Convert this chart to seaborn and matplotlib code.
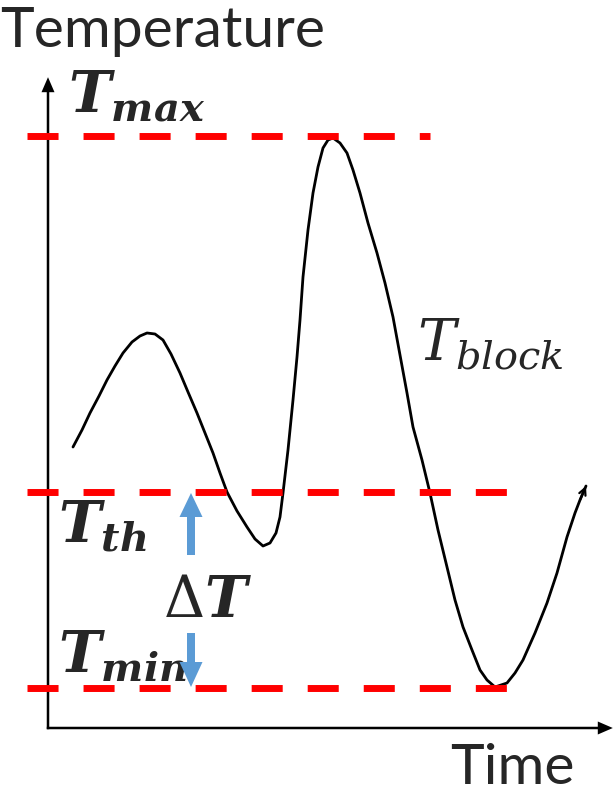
import numpy as np
import seaborn as sns
import matplotlib.pyplot as plt

sns.set_style('white')
plt.rcParams['mathtext.fontset'] = 'custom'
plt.rcParams['mathtext.rm'] = 'DejaVu Serif'
plt.rcParams['mathtext.it'] = 'DejaVu Serif:italic'
plt.rcParams['mathtext.bf'] = 'DejaVu Serif:italic:bold'

# block temperature over time
time = [25, 34, 42, 51, 59, 67, 75, 84, 92, 99, 107, 115, 123, 132, 140, 149,
        157, 165, 172, 179, 189, 199, 207, 215, 222, 228, 232, 235, 240, 245,
        249, 252, 255, 260, 265, 270, 275, 280, 285, 292, 299, 305, 312, 320,
        329, 337, 345, 352, 359, 365, 374, 382, 390, 399, 407, 415, 424, 432,
        439, 447, 459, 467, 475, 487, 499, 509, 519, 527, 532, 538]
temp = [281, 298, 315, 332, 348, 362, 375, 386, 392, 395, 394, 388, 374, 355,
        336, 315, 295, 275, 255, 236, 217, 201, 189, 182, 185, 195, 211, 235,
        278, 328, 371, 408, 451, 498, 535, 561, 580, 588, 590, 585, 575, 558,
        535, 505, 475, 445, 411, 373, 335, 301, 268, 235, 198, 161, 128, 101,
        78, 58, 48, 41, 45, 55, 68, 95, 125, 155, 191, 215, 228, 242]

# reference levels
level_names = ['max', 'th', 'min']
level_values = [592, 236, 40]
level_ends = [382, 483, 483]
line_start = -21

fig = plt.figure(figsize=(6.16, 7.92), dpi=100)
ax = fig.add_axes([0, 0, 1, 1])
ax.set_xlim(-48, 568)
ax.set_ylim(-64, 728)
ax.axis('off')

# axes with arrow heads
ax.arrow(0, -1.2, 0, 652, width=2.5, head_width=13, head_length=15,
         length_includes_head=True, color='black', lw=0)
ax.arrow(-1.2, 0, 566, 0, width=2.5, head_width=13, head_length=15,
         length_includes_head=True, color='black', lw=0)

# curve
sns.lineplot(x=time, y=temp, sort=False, estimator=None, color='black',
             lw=2, ax=ax)
ax.annotate('', xy=(time[-1], temp[-1]), xytext=(time[-2], temp[-2]),
            arrowprops=dict(arrowstyle='->', color='black', lw=1.6,
                            shrinkA=0, shrinkB=0, mutation_scale=12))

# dashed levels
for val, end in zip(level_values, level_ends):
    ax.plot([line_start, end], [val, val], color='#ff0000', lw=5,
            linestyle=(0, (4.47, 3.6)), solid_capstyle='butt', zorder=4)

# labels
ax.text(-48, 681, 'Temperature', fontsize=41, family='Lato',
        ha='left', va='baseline')
ax.text(402, -56, 'Time', fontsize=41, family='Lato',
        ha='left', va='baseline')
ax.text(20, 615, r'$\mathbf{T_{max}}$', fontsize=41, ha='left', va='baseline')
ax.text(10, 186, r'$\mathbf{T_{th}}$', fontsize=41, ha='left', va='baseline')
ax.text(10, 56, r'$\mathbf{T_{min}}$', fontsize=41, ha='left', va='baseline')
ax.text(115, 111, r'$\Delta\mathbf{T}$', fontsize=41, ha='left', va='baseline')
ax.text(369, 368, r'$T_{block}$', fontsize=41, ha='left', va='baseline')

# delta T arrows
blue = '#5b9bd5'
ax.arrow(143, 173, 0, 62, width=8, head_width=23, head_length=24,
         length_includes_head=True, color=blue, lw=0, zorder=5)
ax.arrow(143, 95, 0, -54, width=8, head_width=23, head_length=25,
         length_includes_head=True, color=blue, lw=0, zorder=5)

fig.savefig('out.png', dpi=100)
